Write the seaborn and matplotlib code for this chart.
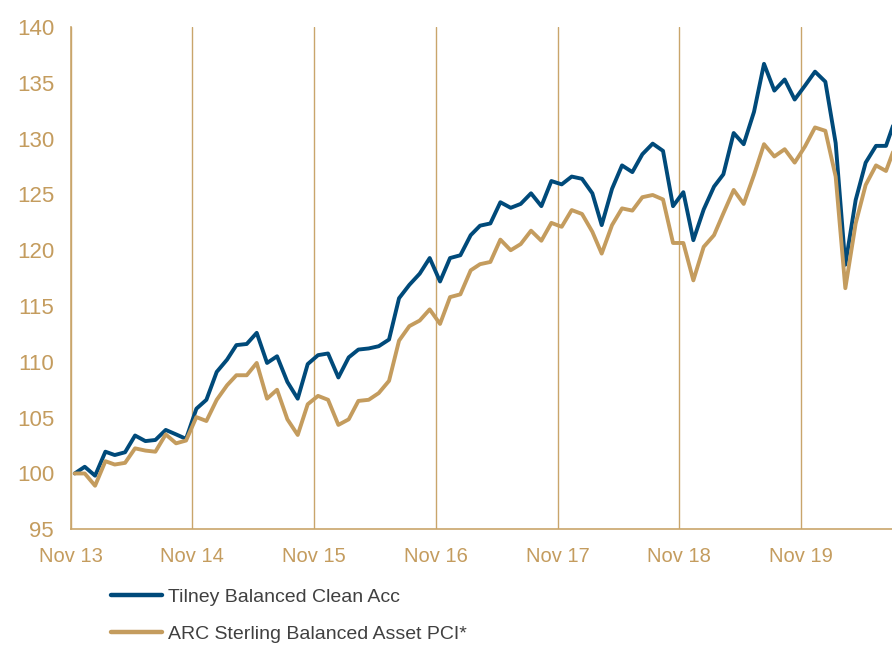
import numpy as np
import pandas as pd
import matplotlib
matplotlib.use("Agg")
import matplotlib.pyplot as plt
import matplotlib.dates as mdates
import seaborn as sns

# ─── data (monthly, rebased to 100 at Nov 13) ─────────────────
tilney = [
    100.0, 100.6, 99.8, 101.95, 101.65, 101.9, 103.4, 102.9, 103.0, 103.9,
    103.5, 103.1, 105.8, 106.6, 109.1, 110.2, 111.5, 111.6, 112.6, 109.9,
    110.5, 108.2, 106.7, 109.8, 110.6, 110.75, 108.6, 110.4, 111.1, 111.2,
    111.4, 112.0, 115.7, 116.9, 117.9, 119.3, 117.2, 119.3, 119.55, 121.35,
    122.2, 122.4, 124.3, 123.8, 124.15, 125.1, 123.95, 126.2, 125.9, 126.6,
    126.4, 125.1, 122.25, 125.5, 127.6, 127.0, 128.6, 129.55, 128.9, 123.95,
    125.2, 120.9, 123.65, 125.7, 126.8, 130.5, 129.5, 132.4, 136.7, 134.3,
    135.3, 133.5, 134.75, 136.0, 135.1, 129.6, 118.7, 124.5, 127.85, 129.35,
    129.35, 132.0,
]
arc = [
    100.0, 100.0, 98.9, 101.1, 100.8, 100.95, 102.25, 102.05, 101.95, 103.5,
    102.7, 102.95, 105.05, 104.7, 106.6, 107.9, 108.8, 108.8, 109.9, 106.7,
    107.5, 104.85, 103.45, 106.2, 106.95, 106.6, 104.35, 104.85, 106.5, 106.6,
    107.2, 108.3, 111.9, 113.2, 113.7, 114.7, 113.4, 115.8, 116.05, 118.2,
    118.75, 118.95, 120.95, 120.0, 120.55, 121.75, 120.85, 122.45, 122.1, 123.6,
    123.25, 121.65, 119.7, 122.25, 123.75, 123.55, 124.75, 124.95, 124.55, 120.65,
    120.65, 117.3, 120.3, 121.35, 123.3, 125.4, 124.15, 126.75, 129.5, 128.4,
    129.05, 127.85, 129.3, 131.0, 130.7, 126.6, 116.6, 122.4, 125.85, 127.6,
    127.1, 129.6,
]
series_names = ["Tilney Balanced Clean Acc", "ARC Sterling Balanced Asset PCI*"]
dates = pd.date_range("2013-11-01", periods=len(tilney), freq="MS") + pd.Timedelta(days=12)
tick_years = list(range(2013, 2020))
y_ticks = list(range(95, 141, 5))

BLUE = "#004A7A"
GOLD = "#C49C5E"
GRID = "#C9A56B"
TEXT = "#404040"

df = pd.DataFrame({
    "date": np.concatenate([dates, dates]),
    "value": tilney + arc,
    "series": [series_names[0]] * len(tilney) + [series_names[1]] * len(arc),
})

sns.set_style("white")
plt.rcParams["font.family"] = ["Liberation Sans", "DejaVu Sans"]

fig = plt.figure(figsize=(8.92, 6.46), dpi=100)
ax = fig.add_axes([0.0793, 0.1807, 0.9207, 0.7775])

sns.lineplot(data=df, x="date", y="value", hue="series",
             palette=[BLUE, GOLD], linewidth=2.8, ax=ax)

ax.set_ylim(95, 140)
ax.set_yticks(y_ticks)
ax.set_xlim(pd.Timestamp("2013-11-01"), pd.Timestamp("2020-07-31"))
ax.set_xticks([pd.Timestamp(f"{y}-11-01") for y in tick_years])
ax.xaxis.set_major_formatter(mdates.DateFormatter("%b %y"))
ax.set_xlabel("")
ax.set_ylabel("")

ax.grid(axis="x", color=GRID, linewidth=1.0)
ax.grid(axis="y", visible=False)
ax.set_axisbelow(True)
for side in ["top", "right"]:
    ax.spines[side].set_visible(False)
for side in ["left", "bottom"]:
    ax.spines[side].set_color(GRID)
    ax.spines[side].set_linewidth(1.2)
ax.tick_params(axis="both", length=0, colors=GOLD)
ax.tick_params(axis="x", pad=13, labelsize=14.5)
ax.tick_params(axis="y", pad=12, labelsize=16)

handles, labels = ax.get_legend_handles_labels()
ax.legend(handles, labels, loc="upper left", bbox_to_anchor=(0.105, 0.117),
          bbox_transform=fig.transFigure, frameon=False, fontsize=14,
          labelcolor=TEXT, handlelength=2.6, handletextpad=0.3,
          labelspacing=1.0)
for line in ax.get_legend().get_lines():
    line.set_linewidth(3.2)

fig.savefig("out.png", dpi=100)
